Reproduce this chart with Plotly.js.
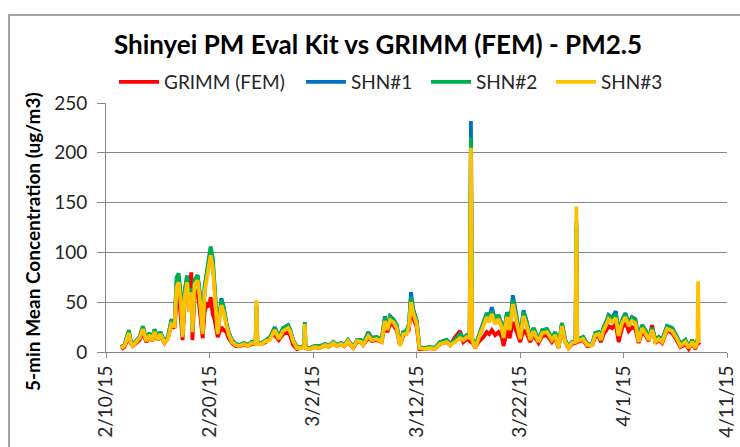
<!DOCTYPE html>
<html>
<head>
<meta charset="utf-8">
<script src="https://cdn.plot.ly/plotly-3.0.1.min.js"></script>
<style>
html,body{margin:0;padding:0;background:#fff;}
#chart{width:740px;height:447px;}
</style>
</head>
<body>
<div id="chart"></div>
<script>
// Sample times, in days after 2015-02-10 00:00
const sampleDays = [
  1.47, 1.79, 2.21, 2.37, 2.59, 2.95, 3.24, 3.56, 3.89, 4.21,
  4.47, 4.69, 5.01, 5.25, 5.66, 5.98, 6.31, 6.63, 6.82, 7.02,
  7.16, 7.26, 7.40, 7.60, 7.84, 8.03, 8.24, 8.35, 8.56, 8.85,
  9.05, 9.34, 9.53, 9.77, 9.97, 10.11, 10.31, 10.50, 10.79, 11.15,
  11.37, 11.63, 11.85, 12.15, 12.53, 12.92, 13.31, 13.69, 14.08, 14.45,
  14.54, 14.63, 15.05, 15.44, 15.82, 16.31, 16.69, 17.11, 17.59, 17.81,
  18.08, 18.44, 18.82, 19.14, 19.21, 19.28, 19.68, 20.18, 20.66, 21.15,
  21.53, 21.95, 22.31, 22.69, 23.03, 23.37, 23.88, 24.24, 24.63, 24.85,
  25.34, 25.67, 26.15, 26.63, 26.95, 27.19, 27.44, 27.76, 28.08, 28.40,
  28.72, 29.05, 29.27, 29.47, 29.66, 30.02, 30.28, 30.82, 31.31, 31.79,
  32.27, 32.92, 33.24, 33.73, 34.21, 34.53, 34.86, 35.13, 35.26, 35.38,
  35.67, 35.98, 36.47, 36.79, 37.02, 37.28, 37.60, 37.92, 38.25, 38.41,
  38.74, 39.00, 39.31, 39.54, 39.86, 40.02, 40.34, 40.66, 40.99, 41.30,
  41.79, 42.15, 42.60, 43.08, 43.40, 43.72, 44.05, 44.37, 44.69, 45.01,
  45.36, 45.45, 45.53, 45.82, 46.10, 46.50, 46.98, 47.27, 47.60, 47.81,
  48.08, 48.41, 48.56, 48.89, 49.26, 49.53, 49.86, 50.18, 50.50, 50.82,
  51.15, 51.47, 51.79, 52.11, 52.43, 52.76, 53.08, 53.40, 53.73, 54.21,
  54.70, 55.18, 55.50, 55.98, 56.30, 56.63, 56.95, 57.14, 57.21, 57.28,
  57.39
];

const grimm = [
  3, 5, 16, 9, 6, 10, 12, 20, 10, 15,
  11, 18, 12, 17, 9, 14, 27, 24, 55, 60,
  45, 35, 12, 50, 65, 55, 80, 12, 60, 62,
  45, 14, 40, 50, 45, 55, 38, 32, 15, 25,
  22, 20, 14, 9, 6, 6, 7, 6, 8, 8,
  10, 8, 8, 10, 15, 17, 12, 18, 20, 16,
  7, 3, 4, 5, 6, 4, 3, 5, 4, 7,
  5, 9, 6, 8, 6, 10, 4, 10, 10, 7,
  14, 11, 12, 10, 28, 20, 28, 27, 22, 7,
  16, 20, 22, 45, 35, 25, 3, 3, 4, 3,
  8, 10, 7, 15, 21, 10, 13, 11, 20, 10,
  4, 10, 15, 20, 18, 22, 17, 20, 15, 6,
  22, 14, 30, 24, 14, 10, 22, 18, 10, 17,
  9, 16, 17, 10, 15, 4, 24, 10, 4, 8,
  9, 12, 10, 11, 12, 6, 7, 15, 16, 10,
  18, 23, 26, 24, 28, 10, 24, 30, 21, 25,
  23, 9, 20, 17, 11, 27, 9, 12, 9, 22,
  19, 11, 5, 8, 3, 9, 3, 9, 9, 9,
  10
];

const shn1 = [
  5, 7, 21, 12, 7, 12, 15, 25, 12, 19,
  12, 22, 14, 20, 10, 15, 32, 29, 72, 77,
  60, 50, 17, 60, 76, 45, 63, 22, 72, 77,
  60, 20, 65, 80, 98, 104, 92, 60, 20, 54,
  45, 29, 20, 12, 8, 7, 9, 7, 10, 9,
  45, 9, 9, 12, 14, 25, 15, 24, 27, 22,
  12, 5, 5, 6, 29, 5, 4, 6, 5, 8,
  6, 10, 7, 9, 7, 12, 5, 12, 12, 8,
  20, 14, 15, 12, 36, 25, 36, 33, 27, 8,
  20, 21, 28, 60, 44, 31, 5, 4, 5, 4,
  10, 12, 8, 12, 18, 14, 17, 16, 232, 14,
  5, 15, 29, 39, 34, 45, 32, 37, 27, 16,
  40, 25, 57, 42, 22, 15, 42, 30, 14, 24,
  12, 22, 23, 14, 20, 5, 29, 12, 5, 10,
  11, 125, 12, 14, 15, 8, 8, 19, 20, 14,
  25, 32, 37, 34, 41, 19, 32, 39, 29, 35,
  33, 12, 27, 22, 14, 24, 12, 15, 12, 26,
  24, 15, 8, 12, 5, 12, 5, 12, 12, 12,
  12
];

const shn2 = [
  5, 7, 22, 12, 7, 12, 15, 26, 12, 19,
  12, 23, 14, 20, 10, 15, 31, 29, 75, 79,
  60, 52, 17, 62, 77, 45, 64, 22, 72, 77,
  60, 20, 65, 82, 100, 106, 95, 62, 20, 52,
  45, 29, 20, 12, 8, 7, 9, 7, 10, 9,
  47, 9, 9, 12, 14, 24, 15, 24, 27, 22,
  12, 5, 5, 6, 30, 5, 4, 6, 6, 8,
  6, 10, 7, 9, 7, 12, 5, 12, 12, 8,
  18, 14, 15, 12, 35, 25, 35, 33, 27, 8,
  20, 21, 28, 55, 43, 31, 5, 4, 5, 4,
  10, 12, 8, 12, 18, 14, 17, 16, 215, 14,
  5, 15, 29, 39, 33, 41, 31, 37, 27, 16,
  40, 25, 52, 42, 22, 15, 40, 30, 14, 24,
  12, 22, 23, 14, 20, 5, 29, 12, 5, 10,
  11, 131, 12, 14, 15, 8, 8, 19, 20, 14,
  25, 32, 37, 33, 38, 19, 32, 38, 29, 34,
  32, 12, 27, 22, 14, 24, 12, 15, 12, 26,
  24, 15, 8, 12, 5, 12, 5, 12, 12, 12,
  12
];

const shn3 = [
  4, 6, 19, 10, 6, 11, 14, 23, 11, 17,
  11, 20, 12, 18, 9, 13, 28, 26, 65, 70,
  55, 45, 15, 55, 70, 40, 60, 20, 68, 72,
  55, 18, 60, 75, 92, 97, 85, 55, 18, 47,
  40, 27, 18, 10, 7, 6, 8, 6, 9, 8,
  52, 8, 8, 11, 12, 22, 13, 21, 24, 20,
  11, 4, 4, 5, 28, 4, 3, 5, 4, 7,
  5, 9, 6, 8, 6, 11, 4, 11, 10, 7,
  16, 12, 13, 10, 31, 22, 32, 30, 24, 6,
  18, 18, 25, 50, 40, 28, 4, 3, 4, 3,
  8, 10, 7, 10, 14, 12, 15, 14, 205, 12,
  4, 13, 26, 35, 30, 38, 28, 33, 24, 14,
  35, 22, 48, 36, 20, 13, 36, 26, 12, 21,
  10, 19, 20, 12, 17, 4, 26, 10, 4, 9,
  10, 146, 11, 12, 13, 7, 7, 17, 18, 12,
  22, 29, 33, 30, 34, 16, 29, 35, 26, 31,
  29, 10, 24, 19, 12, 22, 10, 13, 10, 23,
  21, 13, 6, 10, 4, 10, 4, 10, 71, 11,
  11
];

const seriesNames = ["GRIMM (FEM)", "SHN#1", "SHN#2", "SHN#3"];
const seriesColors = ["#FF0000", "#0070C0", "#00B050", "#FFC000"];
const yTickVals = [0, 50, 100, 150, 200, 250];

const startMs = Date.UTC(2015, 1, 10);
const times = sampleDays.map(d => new Date(startMs + d * 86400000).toISOString().slice(0, 19).replace("T", " "));

const legendIds = ["legend", "legend2", "legend3", "legend4"];
const legendLeft = [120, 307, 432, 557];

const seriesValues = [grimm, shn1, shn2, shn3];
const traces = seriesValues.map((vals, i) => ({
  type: "scatter",
  mode: "lines",
  x: times,
  y: vals,
  name: seriesNames[i],
  legend: legendIds[i],
  line: {color: seriesColors[i], width: 3.8}
}));

const M = {l: 106, r: 13, t: 103, b: 95};
const PW = 740 - M.l - M.r, PH = 447 - M.t - M.b;
const FONT = "Lato, 'Open Sans', sans-serif";

const layout = {
  width: 740, height: 447,
  margin: M,
  paper_bgcolor: "#ffffff",
  plot_bgcolor: "#ffffff",
  showlegend: true,
  title: {
    text: "<b>Shinyei PM Eval Kit vs GRIMM (FEM) - PM2.5</b>",
    font: {family: FONT, size: 26, color: "#000000"},
    x: 378 / 740, xanchor: "center", xref: "container",
    y: 1 - 45 / 447, yanchor: "middle", yref: "container"
  },
  xaxis: {
    type: "date",
    range: ["2015-02-10", "2015-04-11"],
    tick0: "2015-02-10",
    dtick: 864000000,
    tickformat: "%-m/%-d/%y",
    tickangle: -90,
    ticks: "outside", ticklen: 5, tickcolor: "#868686",
    showgrid: false,
    showline: true, linecolor: "#868686", linewidth: 1,
    zeroline: false,
    tickfont: {family: FONT, size: 19, color: "#262626"}
  },
  yaxis: {
    range: [0, 250],
    tickvals: yTickVals,
    ticks: "outside", ticklen: 8, tickcolor: "#868686",
    ticklabelstandoff: 6,
    showgrid: true, gridcolor: "#868686", gridwidth: 1,
    showline: true, linecolor: "#868686", linewidth: 1,
    zeroline: false,
    tickfont: {family: FONT, size: 19, color: "#262626"}
  },
  annotations: [{
    text: "<b>5-min Mean Concentration (ug/m3)</b>",
    xref: "paper", yref: "paper",
    x: (32 - M.l) / PW, y: (352 - 242) / PH,
    xanchor: "center", yanchor: "middle",
    textangle: -90, showarrow: false,
    font: {family: FONT, size: 19, color: "#000000"}
  }],
  shapes: [{
    type: "rect", xref: "paper", yref: "paper", layer: "below",
    x0: (9 - M.l) / PW, x1: (780 - M.l) / PW,
    y0: (352 - 500) / PH, y1: (352 - 15) / PH,
    line: {color: "#898989", width: 1.5}, fillcolor: "rgba(0,0,0,0)"
  }]
};

legendIds.forEach((id, i) => {
  layout[id] = {
    orientation: "h",
    xref: "container", yref: "container",
    x: (legendLeft[i] - 6) / 740, xanchor: "left",
    y: 1 - 82 / 447, yanchor: "middle",
    font: {family: FONT, size: 19, color: "#262626"},
    itemwidth: 40,
    bgcolor: "rgba(0,0,0,0)"
  };
});

Plotly.newPlot("chart", traces, layout, {displayModeBar: false, staticPlot: true});
</script>
</body>
</html>
